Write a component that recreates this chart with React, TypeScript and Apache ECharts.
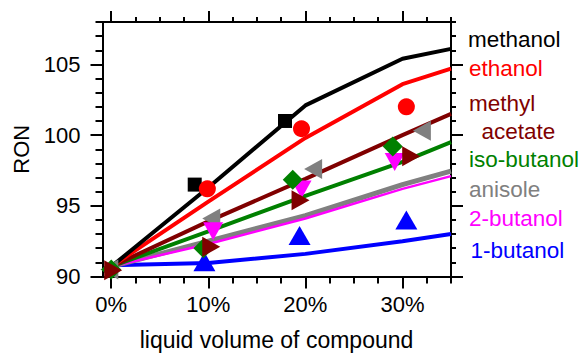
import React, { useEffect, useRef } from "react";
import * as echarts from "echarts";

// ---------- data ----------
const xModel = [0, 10, 20, 30, 35];
const methanolModel = [90.7, 96.3, 102.1, 105.4, 106.1];
const ethanolModel = [90.7, 95.3, 99.8, 103.6, 104.7];
const methylAcetateModel = [90.7, 93.9, 96.9, 100.0, 101.5];
const isoButanolModel = [90.7, 93.2, 95.7, 98.1, 99.5];
const anisoleModel = [90.7, 92.5, 94.3, 96.5, 97.45];
const butanol2Model = [90.7, 92.3, 94.1, 96.2, 97.1];
const butanol1Model = [90.8, 90.95, 91.6, 92.5, 93.0];

const methanolData = [[8.6, 96.5], [17.9, 101.0]];
const ethanolData = [[9.9, 96.2], [19.6, 100.45], [30.4, 102.0]];
const methylAcetateData = [[0.2, 90.45], [10.3, 92.1], [19.5, 95.4], [30.9, 98.5]];
const isoButanolData = [[0, 90.5], [9.5, 92.0], [18.7, 96.85], [29.0, 99.2]];
const anisoleData = [[-0.2, 90.5], [10.3, 94.1], [20.8, 97.6], [32.0, 100.3]];
const butanol2Data = [[10.5, 93.2], [19.6, 96.15], [29.2, 98.1]];
const butanol1Data = [[9.6, 91.05], [19.4, 92.9], [30.4, 94.0]];

const xMajorTicks = [0, 10, 20, 30];
const xMinorTicks = [2.5, 5, 7.5, 12.5, 15, 17.5, 22.5, 25, 27.5, 32.5, 35];
const yMajorTicks = [90, 95, 100, 105];
const yMinorTicks = [91, 92, 93, 94, 96, 97, 98, 99, 101, 102, 103, 104, 106, 107, 108];

const names = ["methanol", "ethanol", "methyl", "acetate", "iso-butanol", "anisole", "2-butanol", "1-butanol"];

const X_MIN = -0.9;
const X_MAX = 35;
const Y_MIN = 90;
const Y_MAX = 108;

const FONT = "'Liberation Sans', Arial, Helvetica, sans-serif";
const C = {
  methanol: "#000000",
  ethanol: "#ff0000",
  methylAcetate: "#800000",
  isoButanol: "#008000",
  anisole: "#808080",
  butanol2: "#ff00ff",
  butanol1: "#0000ff",
};

function xAxis(position: string, ticks: number[], len: number, labels: boolean) {
  return {
    type: "value",
    position,
    min: X_MIN,
    max: X_MAX,
    axisLine: { show: true, onZero: false, lineStyle: { color: "#000", width: 2 } },
    axisTick: { show: true, inside: false, customValues: ticks, length: len, lineStyle: { color: "#000", width: 2 } },
    axisLabel: labels
      ? { show: true, customValues: ticks, formatter: (v: number) => v + "%", fontSize: 22, color: "#000", margin: 17, fontFamily: FONT }
      : { show: false },
    splitLine: { show: false },
  };
}

function yAxis(position: string, ticks: number[], len: number, labels: boolean, name?: string) {
  return {
    type: "value",
    position,
    min: Y_MIN,
    max: Y_MAX,
    name: name || "",
    nameLocation: "middle",
    nameGap: 66,
    nameTextStyle: { fontSize: 22, color: "#000", fontFamily: FONT },
    axisLine: { show: true, onZero: false, lineStyle: { color: "#000", width: 2 } },
    axisTick: { show: true, inside: false, customValues: ticks, length: len, lineStyle: { color: "#000", width: 2 } },
    axisLabel: labels
      ? { show: true, customValues: ticks, fontSize: 22, color: "#000", margin: 22, fontFamily: FONT }
      : { show: false },
    splitLine: { show: false },
  };
}

function lineSeries(model: number[], color: string, width: number, z: number) {
  return {
    type: "line",
    data: xModel.map((x, i) => [x, model[i]]),
    symbol: "none",
    showSymbol: false,
    lineStyle: { color, width },
    z,
    silent: true,
  };
}

function scatterSeries(data: number[][], color: string, symbol: string, size: number | number[], rotate: number, z: number) {
  return {
    type: "scatter",
    data,
    symbol,
    symbolSize: size,
    symbolRotate: rotate,
    itemStyle: { color, opacity: 1 },
    z,
    silent: true,
  };
}

const legendItems = [
  { text: names[0], color: C.methanol, x: 468, y: 39 },
  { text: names[1], color: C.ethanol, x: 469, y: 68 },
  { text: names[2], color: C.methylAcetate, x: 469, y: 103.5 },
  { text: names[3], color: C.methylAcetate, x: 481.5, y: 131.5 },
  { text: names[4], color: C.isoButanol, x: 469, y: 159 },
  { text: names[5], color: C.anisole, x: 469, y: 189 },
  { text: names[6], color: C.butanol2, x: 469, y: 218 },
  { text: names[7], color: C.butanol1, x: 470.5, y: 250 },
];

export default function App() {
  const ref = useRef<HTMLDivElement>(null);
  useEffect(() => {
    if (!ref.current) return;
    const chart = echarts.init(ref.current, null, { renderer: "svg" });
    chart.setOption({
      animation: false,
      backgroundColor: "#ffffff",
      grid: { left: 102.5, right: 133, top: 22, bottom: 76.5, containLabel: false },
      xAxis: [
        xAxis("bottom", xMajorTicks, 12, true),
        xAxis("bottom", xMinorTicks, 7, false),
        xAxis("top", xMajorTicks, 11, false),
        xAxis("top", xMinorTicks, 5, false),
      ],
      yAxis: [
        yAxis("left", yMajorTicks, 12, true, "RON"),
        yAxis("left", yMinorTicks, 7, false),
        yAxis("right", yMajorTicks, 12, false),
        yAxis("right", yMinorTicks, 5, false),
      ],
      series: [
        lineSeries(butanol1Model, C.butanol1, 4, 2),
        lineSeries(anisoleModel, C.anisole, 5, 3),
        lineSeries(butanol2Model, C.butanol2, 2.5, 4),
        lineSeries(isoButanolModel, C.isoButanol, 4, 5),
        lineSeries(methylAcetateModel, C.methylAcetate, 4, 6),
        lineSeries(ethanolModel, C.ethanol, 4, 7),
        lineSeries(methanolModel, C.methanol, 4, 8),
        scatterSeries(butanol1Data, C.butanol1, "triangle", [22, 19], 0, 10),
        scatterSeries(anisoleData, C.anisole, "triangle", [20, 18], 90, 11),
        scatterSeries(butanol2Data, C.butanol2, "triangle", [20, 18], 180, 12),
        scatterSeries(isoButanolData, C.isoButanol, "diamond", [20, 20], 0, 13),
        scatterSeries(methylAcetateData, C.methylAcetate, "triangle", [20, 18], -90, 14),
        scatterSeries(methanolData, C.methanol, "rect", [14, 14], 0, 15),
        scatterSeries(ethanolData, C.ethanol, "circle", 17, 0, 16),
      ],
      graphic: [
        ...legendItems.map((it) => ({
          type: "text",
          x: it.x,
          y: it.y,
          silent: true,
          style: {
            text: it.text,
            fill: it.color,
            fontSize: 22.5,
            fontFamily: FONT,
            align: "left",
            verticalAlign: "middle",
          },
        })),
        {
          type: "text",
          x: 276.5,
          y: 340,
          silent: true,
          style: {
            text: "liquid volume of compound",
            fill: "#000",
            fontSize: 23,
            fontFamily: FONT,
            align: "center",
            verticalAlign: "middle",
          },
        },
      ],
    });
    return () => chart.dispose();
  }, []);
  return (
    <div
      ref={ref}
      style={{ position: "absolute", left: 0, top: 0, width: 584, height: 353, background: "#fff" }}
    />
  );
}
